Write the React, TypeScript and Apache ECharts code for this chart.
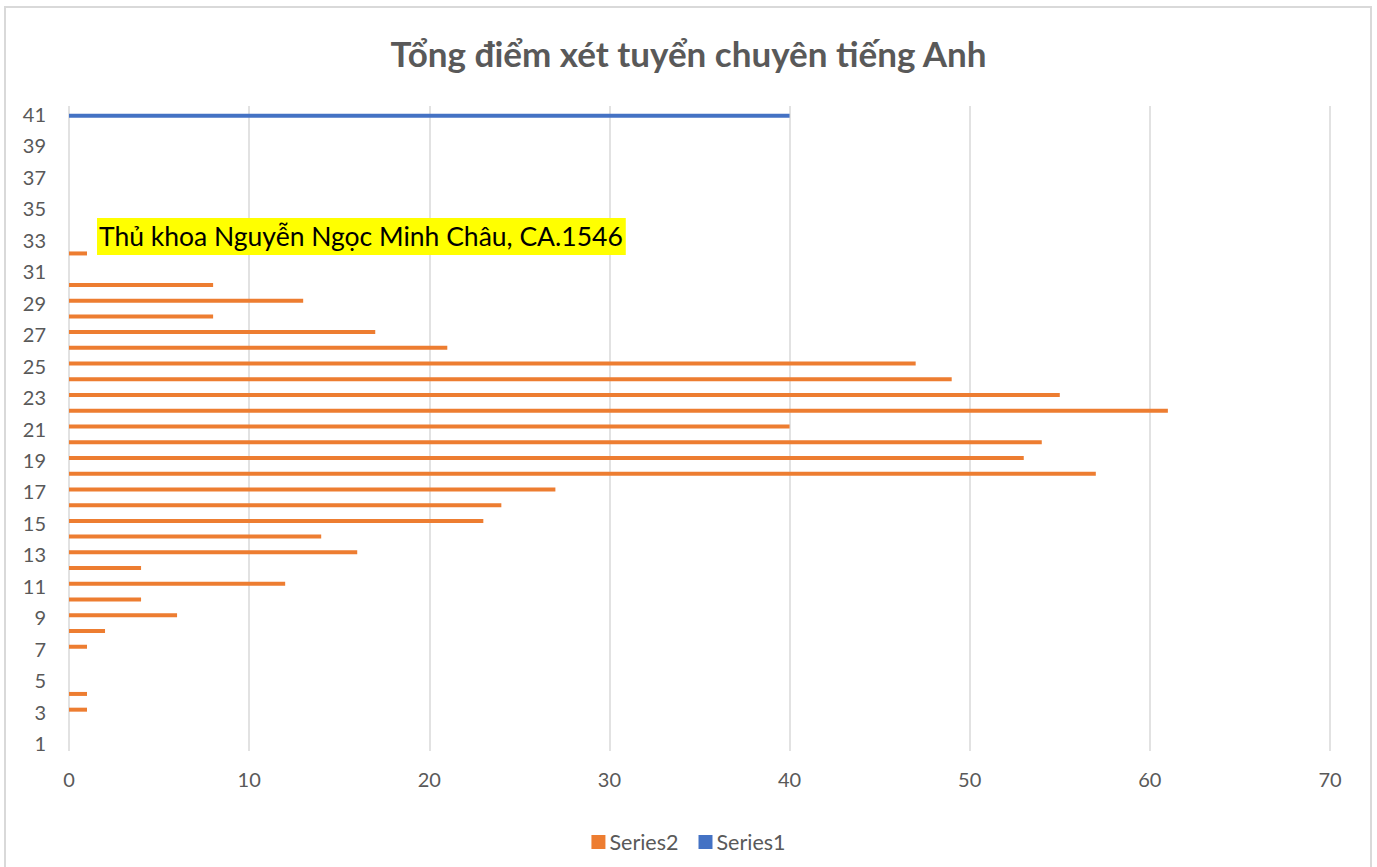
import React, { useEffect, useRef } from "react";
import * as echarts from "echarts";

const categories: string[] = Array.from({ length: 41 }, (_, i) => String(i + 1));
// Series2 values for categories 1..41 (null = no bar)
const series2Values: (number | null)[] = [
  null, null, 1, 1, null, null, 1, 2, 6, 4,
  12, 4, 16, 14, 23, 24, 27, 57, 53, 54,
  40, 61, 55, 49, 47, 21, 17, 8, 13, 8,
  null, 1, null, null, null, null, null, null, null, null,
  null,
];
// Series1 values for categories 1..41
const series1Values: (number | null)[] = [
  null, null, null, null, null, null, null, null, null, null,
  null, null, null, null, null, null, null, null, null, null,
  null, null, null, null, null, null, null, null, null, null,
  null, null, null, null, null, null, null, null, null, null,
  40,
];
const seriesNames = ["Series2", "Series1"];
const titleText = "Tổng điểm xét tuyển chuyên tiếng Anh";
const annotationText = "Thủ khoa Nguyễn Ngọc Minh Châu, CA.1546";
const annotationCategoryIndex = 31; // category 32

const FONT = "Lato, 'Noto Sans', sans-serif";
const GRAY = "#595959";

export default function App() {
  const ref = useRef<HTMLDivElement>(null);
  useEffect(() => {
    document.body.style.margin = "0";
    if (!ref.current) return;
    const chart = echarts.init(ref.current, undefined, { renderer: "svg" });
    const s2Data = series2Values.map((v, i) =>
      i === annotationCategoryIndex
        ? {
            value: v,
            label: {
              show: true,
              position: "right",
              distance: 10,
              offset: [0, -17],
              formatter: annotationText,
              color: "#000000",
              fontFamily: FONT,
              fontSize: 26.5,
              lineHeight: 37,
              backgroundColor: "#FFFF00",
              padding: [0, 3, 0, 2],
            },
          }
        : v
    );
    chart.setOption({
      animation: false,
      backgroundColor: "#ffffff",
      textStyle: { fontFamily: FONT },
      title: {
        text: titleText,
        left: "center",
        top: 35,
        padding: 0,
        textStyle: { fontFamily: FONT, fontSize: 35, fontWeight: "bold", color: GRAY },
      },
      graphic: [
        {
          type: "rect",
          shape: { x: 5, y: 7, width: 1366, height: 900 },
          style: { fill: "none", stroke: "#d9d9d9", lineWidth: 2 },
          silent: true,
          z: -1,
        },
      ],
      legend: {
        data: seriesNames,
        left: "center",
        top: 826,
        itemWidth: 14,
        itemHeight: 14,
        itemGap: 20,
        icon: "rect",
        textStyle: { fontFamily: FONT, fontSize: 21.5, color: GRAY, padding: [0, 0, 0, -1] },
      },
      grid: { left: 69, right: 47, top: 106, bottom: 116, containLabel: false },
      xAxis: {
        type: "value",
        min: 0,
        max: 70,
        interval: 10,
        axisLine: { show: false },
        axisTick: { show: false },
        axisLabel: { fontFamily: FONT, fontSize: 20, color: GRAY, margin: 18 },
        splitLine: { show: true, lineStyle: { color: "#d9d9d9", width: 1.5 } },
      },
      yAxis: {
        type: "category",
        data: categories,
        axisLine: { show: false },
        axisTick: { show: false },
        axisLabel: { interval: 1, fontFamily: FONT, fontSize: 20, color: GRAY, margin: 23 },
        splitLine: { show: false },
      },
      series: [
        {
          name: seriesNames[0],
          type: "bar",
          data: s2Data,
          barWidth: 4,
          barGap: "0%",
          itemStyle: { color: "#ED7D31" },
        },
        {
          name: seriesNames[1],
          type: "bar",
          data: series1Values,
          barWidth: 4,
          barGap: "0%",
          itemStyle: { color: "#4472C4" },
        },
      ],
    });
    return () => chart.dispose();
  }, []);
  return <div ref={ref} style={{ width: 1377, height: 867 }} />;
}
